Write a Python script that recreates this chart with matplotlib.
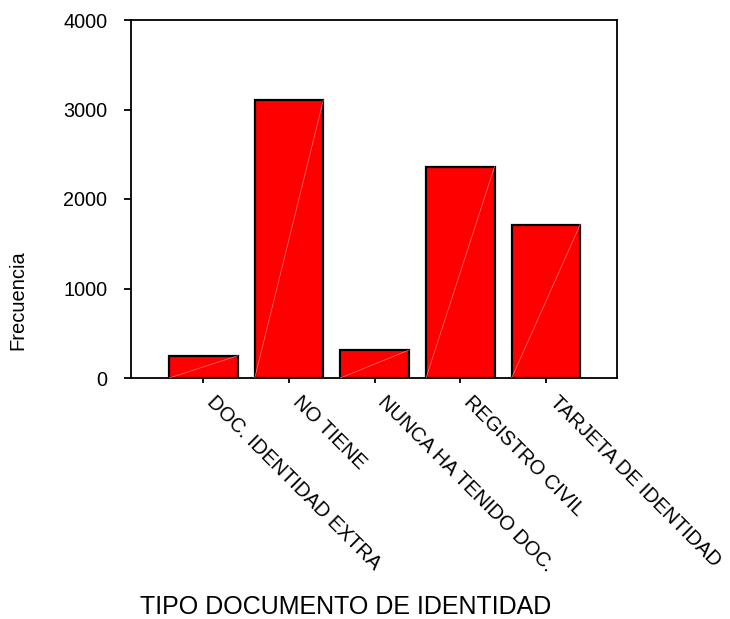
import numpy as np
import matplotlib
matplotlib.use("Agg")
import matplotlib.pyplot as plt
from matplotlib.transforms import ScaledTranslation

plt.rcParams['font.family'] = ['Liberation Sans', 'DejaVu Sans']

categorias = ['DOC. IDENTIDAD EXTRA', 'NO TIENE', 'NUNCA HA TENIDO DOC.',
              'REGISTRO CIVIL', 'TARJETA DE IDENTIDAD']
frecuencia = [248, 3103, 312, 2361, 1715]
yticks = [0, 1000, 2000, 3000, 4000]

fig = plt.figure(figsize=(7.3, 6.19), dpi=100)
ax = fig.add_axes([131/730, 1 - 378/619, 486/730, 358/619])

X = np.arange(len(categorias))
bars = ax.bar(X, frecuencia, width=0.8, color='#ff0000', edgecolor='black',
              linewidth=1.6, zorder=2)
# faint seam lines inside each bar
for b in bars:
    x0, y0 = b.get_x(), b.get_y()
    ax.plot([x0, x0 + b.get_width()], [y0, y0 + b.get_height()],
            color='#ff7a7a', lw=0.5, zorder=3)

ax.set_xlim(-0.845, 4.83)
ax.set_ylim(0, 4000)
ax.set_yticks(yticks)
ax.set_yticklabels([str(v) for v in yticks], fontsize=14.3)
ax.set_xticks(X)
ax.set_xticklabels(categorias, rotation=-45, ha='left', va='top', fontsize=14.5)
offset = ScaledTranslation(7/72, 0, fig.dpi_scale_trans)
for lbl in ax.get_xticklabels():
    lbl.set_transform(lbl.get_transform() + offset)

ax.tick_params(axis='y', length=5, width=1.3, pad=12)
ax.tick_params(axis='x', length=3.6, width=1.3, pad=7)
for s in ax.spines.values():
    s.set_linewidth(1.3)

ax.set_ylabel('Frecuencia', fontsize=14.5, va='center')
ax.yaxis.set_label_coords((18 - 131) / 486, (378 - 300) / 358)
ax.set_xlabel('TIPO DOCUMENTO DE IDENTIDAD', fontsize=18, va='center')
ax.xaxis.set_label_coords((346 - 131) / 486, (378 - 607) / 358)

fig.savefig('out.png', dpi=100)
